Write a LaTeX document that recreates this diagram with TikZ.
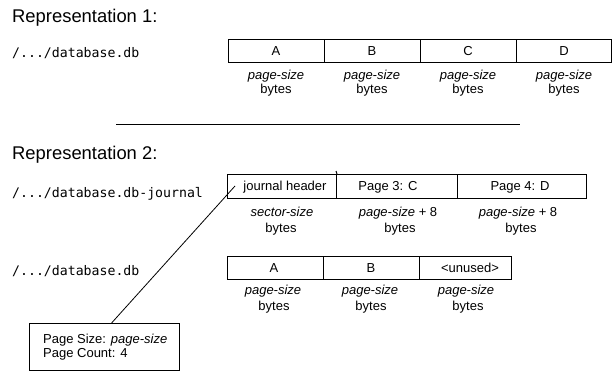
\documentclass[tikz,border=0pt]{standalone}
\usepackage{fontspec}
\setmainfont{Liberation Sans}
\newfontfamily\monofont{DejaVu Sans Mono}
\usetikzlibrary{calc}
\tikzset{
  cell/.style={draw, line width=1pt, anchor=north west, inner sep=0pt},
  txt/.style={anchor=base, inner sep=0pt, font=\fontsize{13}{15}\selectfont},
  path/.style={anchor=base west, inner sep=0pt, font=\monofont\fontsize{13.2}{15}\selectfont},
  title/.style={anchor=base west, inner sep=0pt, font=\fontsize{18.4}{22}\selectfont},
  rule/.style={line width=1pt},
}
\begin{document}
\begin{tikzpicture}[x=1pt,y=-1pt]
\useasboundingbox (0,0) rectangle (612,371);
% Representation 1
\node[title] (t1) at (12,23) {Representation 1:};
\node[path] (p1) at (12,58) {/.../database.db};
\node[cell, minimum width=96pt, minimum height=23pt] (a1) at (228,39) {};
\node[cell, minimum width=96pt, minimum height=23pt] (b1) at (324,39) {};
\node[cell, minimum width=96pt, minimum height=23pt] (c1) at (420,39) {};
\node[cell, minimum width=95pt, minimum height=23pt] (d1) at (516,39) {};
\node[txt] (a1t) at (276,55.5) {A};
\node[txt] (b1t) at (372,55.5) {B};
\node[txt] (c1t) at (468,55.5) {C};
\node[txt] (d1t) at (564,55.5) {D};
\foreach \n/\x in {a/276,b/372,c/468,d/564}{
  \node[txt] (\n1s) at (\x,79.5) {\itshape page-size};
  \node[txt] (\n1b) at (\x,94) {bytes};
}
% separator
\coordinate (sepL) at (116,125);
\coordinate (sepR) at (520,125);
\draw[rule] (sepL) -- (sepR);
% Representation 2
\node[title] (t2) at (12,160) {Representation 2:};
\node[path] (p2) at (12,197.5) {/.../database.db-journal};
\node[cell, minimum width=109pt, minimum height=24pt] (jh) at (227,174) {};
\node[cell, minimum width=121pt, minimum height=24pt] (j3) at (336,174) {};
\node[cell, minimum width=129pt, minimum height=24pt] (j4) at (457,174) {};
\coordinate (divtop) at (336,171);
\draw[rule] (divtop) -- (jh.north east);
\node[txt] (jht) at (285,190.5) {journal header};
\node[txt] (j3t) at (388,190.5) {Page 3: C};
\node[txt] (j4t) at (520,190.5) {Page 4: D};
\node[txt] (jhs) at (282,216) {\itshape sector-size};
\node[txt] (jhb) at (281,232) {bytes};
\node[txt] (j3s) at (398,216) {\itshape page-size\upshape{} + 8};
\node[txt] (j3b) at (400,232) {bytes};
\node[txt] (j4s) at (518,216) {\itshape page-size\upshape{} + 8};
\node[txt] (j4b) at (521,232) {bytes};
% database.db (rep 2)
\node[path] (p3) at (12,275) {/.../database.db};
\node[cell, minimum width=96pt, minimum height=23pt] (a3) at (227,256) {};
\node[cell, minimum width=96pt, minimum height=23pt] (b3) at (323,256) {};
\node[cell, minimum width=92pt, minimum height=23pt] (u3) at (419,256) {};
\node[txt] (a3t) at (274,272) {A};
\node[txt] (b3t) at (371,272) {B};
\node[txt] (u3t) at (470,272) {<unused>};
\node[txt] (a3s) at (273,294.5) {\itshape page-size};
\node[txt] (a3b) at (274,310) {bytes};
\node[txt] (b3s) at (370,294.5) {\itshape page-size};
\node[txt] (b3b) at (371,310) {bytes};
\node[txt] (u3s) at (466,294.5) {\itshape page-size};
\node[txt] (u3b) at (468,310) {bytes};
% info box
\node[cell, minimum width=150pt, minimum height=47pt] (info) at (29,323) {};
\node[txt, anchor=base west] (i1) at (43,343.5) {Page Size: \itshape page-size};
\node[txt, anchor=base west] (i2) at (43,357.5) {Page Count: 4};
\coordinate (ptr) at (235,186);
\draw[line width=0.8pt] ($(info.north west)!0.547!(info.north east)$) -- (ptr);
\end{tikzpicture}
\end{document}
